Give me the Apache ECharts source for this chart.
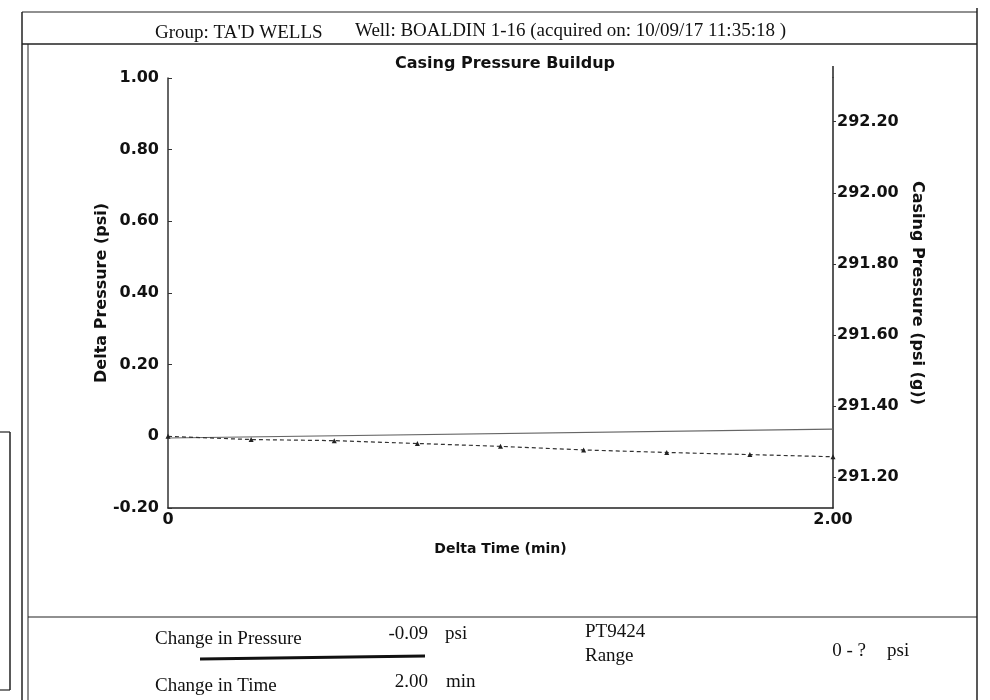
<!DOCTYPE html>
<html>
<head>
<meta charset="utf-8">
<script src="https://cdn.jsdelivr.net/npm/echarts/dist/echarts.min.js"></script>
<style>
  html, body { margin: 0; padding: 0; background: #fff; }
  #chart { width: 990px; height: 700px; }
</style>
</head>
<body>
<div id="chart"></div>
<script>
// ---- data ----
const timeMin   = [0, 0.25, 0.5, 0.75, 1.0, 1.25, 1.5, 1.75, 2.0];
const deltaPsi  = [0, -0.009, -0.012, -0.02, -0.028, -0.038, -0.045, -0.051, -0.057];
const casingTime = [0, 2.0];
const casingPsi  = [291.31, 291.335];

const headerGroup = "Group: TA'D WELLS";
const headerWell  = "Well: BOALDIN 1-16 (acquired on: 10/09/17 11:35:18 )";
const chartTitle  = "Casing Pressure Buildup";
const xName = "Delta Time (min)";
const yLeftName = "Delta Pressure (psi)";
const yRightName = "Casing Pressure (psi (g))";

const statLabels = ["Change in Pressure", "Change in Time"];
const statValues = ["-0.09", "2.00"];
const statUnits  = ["psi", "min"];
const sensorName = "PT9424";
const rangeLabel = "Range";
const rangeValue = "0 - ?";
const rangeUnit  = "psi";

// ---- chart ----
const chart = echarts.init(document.getElementById('chart'), null, { renderer: 'canvas' });

const sans = 'DejaVu Sans';
const serif = 'Liberation Serif';
const ink = '#111';

function pairs(xs, ys) { return xs.map((x, i) => [x, ys[i]]); }

const serifText = (x, y, text, align) => ({
  type: 'text', x: x, y: y,
  style: { text: text, font: '19px "' + serif + '"', fill: ink, textAlign: align || 'left', textVerticalAlign: 'middle' }
});
const line = (x1, y1, x2, y2, w, c) => ({
  type: 'line', shape: { x1: x1, y1: y1, x2: x2, y2: y2 },
  style: { stroke: c || '#222', lineWidth: w || 1 }, silent: true
});

const option = {
  backgroundColor: '#fff',
  animation: false,
  title: {
    text: chartTitle,
    left: 500, top: 51, textAlign: 'center',
    textStyle: { fontFamily: sans, fontWeight: 'bold', fontSize: 16, color: ink }
  },
  grid: { left: 168, right: 157, top: 78, bottom: 192, containLabel: false },
  xAxis: {
    type: 'value', min: 0, max: 2, interval: 2,
    name: xName, nameLocation: 'middle', nameGap: 34,
    nameTextStyle: { fontFamily: sans, fontWeight: 'bold', fontSize: 14, color: ink },
    axisLine: { onZero: false, lineStyle: { color: '#222', width: 1.5 } },
    axisTick: { show: false },
    splitLine: { show: false },
    axisLabel: {
      margin: 4, fontFamily: sans, fontWeight: 'bold', fontSize: 16, color: ink,
      formatter: v => v === 0 ? '0' : v.toFixed(2)
    }
  },
  yAxis: [
    {
      type: 'value', min: -0.2, max: 1.0, interval: 0.2, position: 'left',
      name: yLeftName, nameLocation: 'middle', nameGap: 58, nameRotate: 90,
      nameMoveOverlap: false,
      nameTextStyle: { fontFamily: sans, fontWeight: 'bold', fontSize: 16, color: ink },
      axisLine: { show: true, onZero: false, lineStyle: { color: '#333', width: 1.5 } },
      axisTick: { show: true, inside: true, length: 4, lineStyle: { color: '#333' } },
      splitLine: { show: false },
      axisLabel: {
        margin: 9, fontFamily: sans, fontWeight: 'bold', fontSize: 16, color: ink,
        formatter: v => Math.abs(v) < 1e-9 ? '0' : v.toFixed(2)
      }
    },
    {
      type: 'value', min: 291.113, max: 292.323, splitNumber: 6, position: 'right',
      name: yRightName, nameLocation: 'middle', nameGap: 76, nameRotate: -90,
      nameTextStyle: { fontFamily: sans, fontWeight: 'bold', fontSize: 16, color: ink },
      axisLine: { show: true, onZero: false, lineStyle: { color: '#222', width: 1.5 } },
      axisTick: { show: true, length: 3, lineStyle: { color: '#333' } },
      splitLine: { show: false },
      axisLabel: {
        margin: 4, fontFamily: sans, fontWeight: 'bold', fontSize: 16, color: ink,
        showMinLabel: false, showMaxLabel: false,
        formatter: v => {
          const r = Math.round(v / 0.2) * 0.2;
          return Math.abs(r - v) < 1e-6 ? v.toFixed(2) : '';
        }
      }
    }
  ],
  series: [
    {
      name: 'Casing Pressure', type: 'line', yAxisIndex: 1,
      data: pairs(casingTime, casingPsi),
      showSymbol: false, symbol: 'none',
      lineStyle: { color: '#666', width: 1.2 }
    },
    {
      name: 'Delta Pressure', type: 'line', yAxisIndex: 0,
      data: pairs(timeMin, deltaPsi),
      symbol: 'triangle', symbolSize: 5,
      itemStyle: { color: '#222' },
      lineStyle: { color: '#333', width: 1.2, type: [4, 3] }
    }
  ],
  graphic: [
    // page frame
    line(22, 12, 977, 12, 1.2),
    line(22, 12, 22, 700, 1.5),
    line(28, 44, 28, 700, 1),
    line(977, 8, 977, 700, 1.5),
    line(22, 44, 977, 44, 1.5),
    line(28, 617, 977, 617, 1.2),
    // stray box at far left of the scan
    line(0, 432, 10, 432, 1.2),
    line(10, 432, 10, 690, 1.5),
    line(0, 690, 10, 690, 1.2),
    // right axis overhang
    line(833, 66, 833, 78, 1.5),
    // header
    { type: 'text', x: 155, y: 33, style: { text: headerGroup, font: '19px "' + serif + '"', fill: ink, textVerticalAlign: 'middle' } },
    { type: 'text', x: 355, y: 31, style: { text: headerWell, font: '19px "' + serif + '"', fill: ink, textVerticalAlign: 'middle' } },
    // stats block
    serifText(155, 639, statLabels[0]),
    serifText(428, 634, statValues[0], 'right'),
    serifText(445, 634, statUnits[0]),
    line(200, 659, 425, 656, 3, '#111'),
    serifText(155, 686, statLabels[1]),
    serifText(428, 682, statValues[1], 'right'),
    serifText(446, 682, statUnits[1]),
    serifText(585, 632, sensorName),
    serifText(585, 656, rangeLabel),
    serifText(866, 651, rangeValue, 'right'),
    serifText(887, 651, rangeUnit)
  ]
};

chart.setOption(option);
</script>
</body>
</html>
